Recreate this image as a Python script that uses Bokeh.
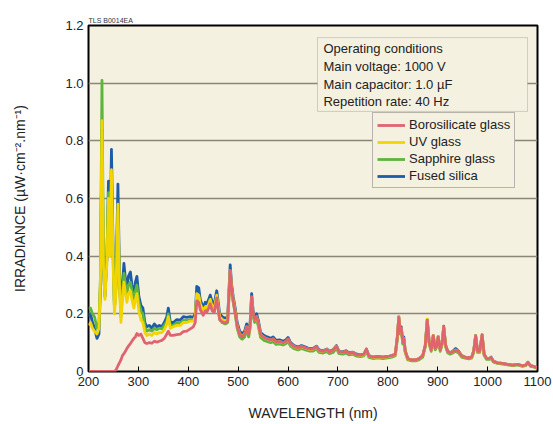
from bokeh.plotting import figure
from bokeh.models import Range1d, FixedTicker, Label, BoxAnnotation, Legend, LegendItem, PrintfTickFormatter, Title
from bokeh.embed import file_html
from bokeh.resources import INLINE

wavelength = [200, 204, 208, 212, 217, 221, 224, 227, 230, 233, 237, 240, 243, 246, 249, 252, 255, 259, 262, 265,
              268, 271, 274, 277, 280, 284, 287, 291, 294, 297, 301, 305, 309, 313, 317, 322, 327, 332, 337, 342,
              347, 352, 357, 360, 364, 370, 377, 384, 390, 397, 404, 410, 414, 417, 421, 424, 430, 434, 437, 441,
              444, 448, 452, 457, 460, 463, 468, 474, 479, 484, 487, 490, 494, 498, 503, 508, 513, 517, 521, 524,
              527, 530, 533, 537, 540, 545, 552, 558, 565, 570, 576, 583, 590, 596, 600, 605, 612, 620, 627, 635,
              642, 650, 657, 662, 670, 678, 683, 690, 697, 702, 710, 716, 722, 730, 738, 745, 752, 757, 762, 770,
              780, 790, 800, 808, 815, 819, 822, 825, 827, 830, 832, 835, 840, 848, 856, 863, 870, 875, 879, 883,
              887, 891, 895, 898, 901, 905, 909, 912, 916, 920, 925, 930, 936, 942, 948, 955, 962, 968, 972, 976,
              980, 984, 989, 993, 998, 1003, 1007, 1012, 1020, 1030, 1040, 1050, 1060, 1070, 1076, 1081, 1086, 1092, 1100]

fused_silica = [.19, .20, .17, .15, .115, .13, .30, .84, .35, .26, .40, .66, .42, .77, .45, .22, .30, .65, .35, .20,
                .30, .375, .32, .29, .33, .345, .30, .27, .31, .33, .26, .23, .22, .17, .155, .16, .15, .165, .155, .16,
                .155, .17, .19, .22, .17, .17, .18, .178, .19, .188, .19, .188, .20, .295, .29, .25, .22, .24, .235, .25,
                .265, .24, .235, .28, .24, .20, .19, .185, .19, .37, .30, .26, .22, .17, .14, .13, .14, .165, .14, .17,
                .27, .21, .19, .20, .18, .135, .125, .12, .115, .12, .108, .11, .105, .11, .118, .10, .09, .085, .09, .085,
                .08, .08, .088, .075, .072, .078, .07, .075, .09, .07, .068, .072, .065, .067, .06, .058, .06, .078, .055, .05,
                .052, .05, .052, .055, .06, .12, .19, .14, .155, .10, .12, .07, .045, .04, .04, .045, .055, .09, .18, .10,
                .075, .125, .08, .09, .122, .075, .10, .157, .09, .07, .065, .07, .08, .07, .055, .05, .048, .05, .07, .125,
                .07, .07, .128, .06, .045, .045, .05, .035, .03, .028, .025, .022, .025, .02, .022, .032, .02, .018, .012]

uv_glass = [.16, .17, .15, .14, .13, .15, .32, .87, .36, .25, .38, .60, .40, .70, .40, .20, .27, .58, .30, .17,
            .25, .31, .27, .24, .27, .28, .25, .22, .25, .27, .21, .18, .17, .135, .125, .13, .125, .135, .13, .135,
            .135, .145, .165, .19, .15, .155, .16, .16, .17, .17, .175, .175, .19, .27, .265, .235, .21, .225, .22, .235,
            .25, .225, .22, .265, .225, .19, .18, .175, .18, .35, .285, .25, .21, .16, .13, .122, .13, .155, .13, .16,
            .255, .20, .18, .19, .17, .127, .118, .113, .108, .113, .102, .104, .099, .104, .112, .095, .086, .081, .086, .081,
            .077, .077, .085, .072, .07, .076, .068, .073, .088, .068, .066, .07, .063, .065, .058, .056, .058, .076, .054, .049,
            .051, .049, .051, .054, .059, .12, .19, .14, .15, .10, .115, .068, .044, .04, .04, .045, .055, .09, .182, .10,
            .075, .125, .08, .09, .122, .075, .10, .155, .09, .07, .065, .068, .075, .068, .054, .049, .047, .049, .07, .125,
            .07, .07, .128, .06, .045, .045, .048, .035, .03, .028, .025, .022, .025, .02, .022, .032, .02, .018, .012]

sapphire_glass = [.22, .22, .20, .19, .15, .17, .33, 1.01, .38, .27, .40, .62, .41, .68, .42, .22, .29, .56, .32, .19,
                  .27, .34, .30, .27, .30, .31, .28, .25, .28, .30, .24, .21, .20, .155, .14, .145, .14, .15, .145, .15,
                  .148, .16, .175, .20, .16, .16, .17, .168, .178, .176, .18, .178, .19, .265, .26, .225, .20, .215, .21, .225,
                  .24, .215, .21, .255, .215, .18, .17, .165, .17, .34, .275, .24, .20, .15, .12, .112, .12, .145, .12, .15,
                  .245, .19, .17, .18, .16, .118, .108, .104, .10, .104, .094, .096, .092, .097, .104, .088, .079, .075, .08, .075,
                  .071, .071, .078, .066, .064, .069, .062, .066, .08, .062, .06, .064, .058, .06, .053, .052, .054, .07, .049, .045,
                  .047, .045, .047, .05, .055, .11, .18, .13, .145, .095, .11, .065, .04, .037, .037, .041, .05, .085, .17, .095,
                  .07, .12, .075, .085, .117, .07, .095, .15, .085, .065, .06, .064, .07, .064, .05, .046, .044, .046, .066, .12,
                  .066, .066, .122, .056, .042, .042, .045, .032, .028, .026, .023, .02, .023, .018, .02, .03, .018, .016, .011]

borosilicate_glass = [0, 0, 0, 0, 0, 0, 0, 0, 0, 0, 0, 0, 0, 0, 0, 0, .005, .02, .03, .04,
                      .055, .062, .07, .08, .088, .097, .105, .115, .12, .132, .125, .13, .115, .10, .097, .10, .098, .105, .102, .105,
                      .108, .115, .13, .14, .125, .125, .128, .13, .138, .14, .148, .155, .17, .245, .24, .215, .195, .21, .205, .22,
                      .235, .21, .205, .255, .215, .18, .172, .168, .175, .35, .285, .245, .205, .158, .128, .12, .128, .155, .128, .16,
                      .26, .20, .18, .19, .17, .127, .118, .113, .109, .113, .102, .104, .10, .105, .113, .096, .087, .082, .087, .082,
                      .078, .078, .086, .073, .07, .076, .068, .073, .088, .068, .066, .07, .063, .065, .058, .057, .059, .077, .054, .05,
                      .052, .05, .052, .055, .06, .12, .188, .14, .15, .10, .115, .07, .045, .04, .04, .045, .055, .09, .178, .10,
                      .075, .124, .08, .09, .12, .075, .10, .155, .09, .07, .065, .068, .074, .068, .054, .049, .047, .05, .07, .124,
                      .07, .07, .127, .06, .045, .045, .048, .035, .03, .028, .025, .022, .025, .02, .022, .032, .02, .018, .012]

series_names = ["Borosilicate glass", "UV glass", "Sapphire glass", "Fused silica"]
series_colors = ["#e06470", "#f2d500", "#5db53c", "#1d5ca8"]
y_ticks = [0, 0.2, 0.4, 0.6, 0.8, 1.0, 1.2]
x_ticks = [200, 300, 400, 500, 600, 700, 800, 900, 1000, 1100]
conditions = ["Operating conditions", "Main voltage: 1000 V", "Main capacitor: 1.0 \u00b5F", "Repetition rate: 40 Hz"]

FONT = "Liberation Sans"

p = figure(width=553, height=424, x_range=Range1d(200, 1100), y_range=Range1d(0, 1.2),
           output_backend="svg", toolbar_location=None,
           min_border_left=88, min_border_right=16, min_border_top=25, min_border_bottom=53)
p.background_fill_color = "#f5f1e0"
p.border_fill_color = "white"
p.outline_line_color = "black"
p.outline_line_width = 2

p.add_layout(Title(text="TLS B0014EA", text_font=FONT, text_font_size="7px", text_font_style="normal",
                   text_color="#333333", align="left", standoff=4, offset=0), "above")

p.xgrid.visible = False
p.ygrid.grid_line_color = "#8c8676"
p.ygrid.grid_line_width = 1.5
p.ygrid.ticker = FixedTicker(ticks=y_ticks)

p.yaxis.ticker = FixedTicker(ticks=y_ticks)
p.yaxis.formatter = PrintfTickFormatter(format="%.1f")
p.yaxis.major_label_overrides = {0: "0"}
p.yaxis.major_tick_out = 0
p.yaxis.major_tick_in = 0
p.yaxis.minor_tick_line_color = None
p.yaxis.axis_line_color = None
p.yaxis.major_label_standoff = 5
p.yaxis.axis_label = "IRRADIANCE (\u00b5W\u00b7cm\u207b\u00b2.nm\u207b\u00b9)"
p.yaxis.axis_label_standoff = 34

p.xaxis.ticker = FixedTicker(ticks=x_ticks)
p.xaxis.major_tick_out = 0
p.xaxis.major_tick_in = 5
p.xaxis.major_tick_line_color = "black"
p.xaxis.minor_tick_line_color = None
p.xaxis.axis_line_color = None
p.xaxis.major_label_standoff = 5
p.xaxis.axis_label = "WAVELENGTH (nm)"
p.xaxis.axis_label_standoff = 16

for ax in (p.xaxis[0], p.yaxis[0]):
    ax.major_label_text_font = FONT
    ax.major_label_text_font_size = "13px"
    ax.major_label_text_color = "#222222"
    ax.axis_label_text_font = FONT
    ax.axis_label_text_font_size = "14px"
    ax.axis_label_text_font_style = "normal"
    ax.axis_label_text_color = "#222222"

series_values = [borosilicate_glass, uv_glass, sapphire_glass, fused_silica]
renderers = {}
for idx in [3, 2, 1, 0]:
    renderers[idx] = p.line(wavelength, series_values[idx], line_color=series_colors[idx],
                            line_width=2.8, line_join="round")

legend = Legend(items=[LegendItem(label=series_names[i], renderers=[renderers[i]]) for i in range(4)],
                location=(284, 183))
legend.label_text_font = FONT
legend.label_text_font_size = "13px"
legend.label_text_color = "#222222"
legend.border_line_color = "#777777"
legend.border_line_width = 1
legend.background_fill_color = "#f5f1e0"
legend.background_fill_alpha = 1
legend.glyph_width = 28
legend.glyph_height = 12
legend.label_height = 12
legend.spacing = 2
legend.padding = 4
legend.margin = 0
legend.label_standoff = 4
p.add_layout(legend)

box = BoxAnnotation(left=659, right=1080, bottom=0.902, top=1.158,
                    fill_color="#f5f1e0", fill_alpha=1, line_color="#777777", line_width=1, level="overlay")
p.add_layout(box)

line_y = [1.12, 1.058, 0.996, 0.936]
for txt, yv in zip(conditions, line_y):
    p.add_layout(Label(x=671, y=yv, text=txt, text_font=FONT, text_font_size="13px",
                       text_color="#222222", text_baseline="middle", level="overlay"))

open("out.html", "w").write(file_html(p, INLINE))
